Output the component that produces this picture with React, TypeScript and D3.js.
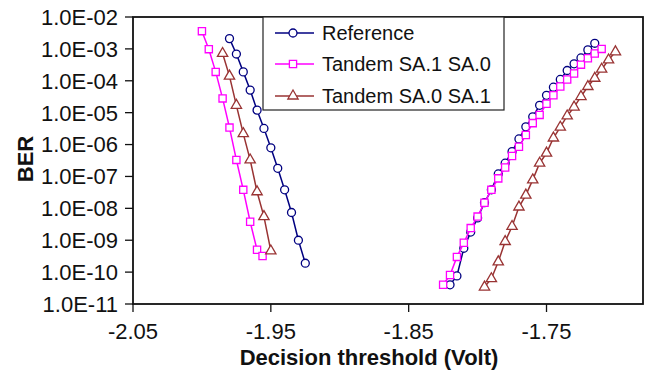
import React from "react";
import * as d3 from "d3";

const xTicks = [-2.05, -1.95, -1.85, -1.75];
const xTickLabels = ["-2.05", "-1.95", "-1.85", "-1.75"];
const yTicks = [1e-2, 1e-3, 1e-4, 1e-5, 1e-6, 1e-7, 1e-8, 1e-9, 1e-10, 1e-11];
const yTickLabels = ["1.0E-02", "1.0E-03", "1.0E-04", "1.0E-05", "1.0E-06", "1.0E-07", "1.0E-08", "1.0E-09", "1.0E-10", "1.0E-11"];

// Reference
const refLeftX = [-1.98, -1.975, -1.97, -1.965, -1.96, -1.955, -1.95, -1.945, -1.94, -1.935, -1.93, -1.925];
const refLeftY = [2.1e-3, 6.9e-4, 1.9e-4, 5.1e-5, 1.2e-5, 3.2e-6, 7.9e-7, 1.8e-7, 3.8e-8, 7.4e-9, 1.0e-9, 1.9e-10];
const refRightX = [-1.82, -1.815, -1.81, -1.805, -1.8, -1.795, -1.79, -1.785, -1.78, -1.775, -1.77, -1.765, -1.76, -1.755, -1.75, -1.745, -1.74, -1.735, -1.73, -1.725, -1.72, -1.715];
const refRightY = [4.0e-11, 7.6e-11, 5.6e-10, 1.8e-9, 5.0e-9, 1.5e-8, 3.8e-8, 1.2e-7, 2.6e-7, 6.0e-7, 1.5e-6, 3.6e-6, 7.4e-6, 1.7e-5, 3.5e-5, 6.3e-5, 1.1e-4, 2.1e-4, 3.4e-4, 5.2e-4, 9.3e-4, 1.5e-3];

// Tandem SA.1 SA.0
const t10LeftX = [-2.0, -1.995, -1.99, -1.985, -1.98, -1.975, -1.97, -1.965, -1.96, -1.956];
const t10LeftY = [3.6e-3, 9.8e-4, 1.9e-4, 2.8e-5, 3.4e-6, 3.3e-7, 3.8e-8, 3.8e-9, 5.0e-10, 3.2e-10];
const t10RightX = [-1.825, -1.82, -1.815, -1.81, -1.805, -1.8, -1.795, -1.79, -1.785, -1.78, -1.775, -1.77, -1.765, -1.76, -1.755, -1.75, -1.745, -1.74, -1.735, -1.73, -1.725, -1.72, -1.715, -1.71];
const t10RightY = [4.0e-11, 8.1e-11, 3.0e-10, 8.3e-10, 2.4e-9, 5.5e-9, 1.5e-8, 3.8e-8, 8.7e-8, 1.9e-7, 4.4e-7, 8.5e-7, 2.0e-6, 4.7e-6, 8.5e-6, 1.9e-5, 3.5e-5, 6.6e-5, 1.1e-4, 1.7e-4, 3.2e-4, 5.1e-4, 7.2e-4, 1.0e-3];

// Tandem SA.0 SA.1
const t01LeftX = [-1.985, -1.98, -1.975, -1.97, -1.965, -1.96, -1.955, -1.95];
const t01LeftY = [7.2e-4, 1.4e-4, 1.7e-5, 2.2e-6, 3.3e-7, 3.3e-8, 5.5e-9, 4.6e-10];
const t01RightX = [-1.795, -1.79, -1.785, -1.78, -1.775, -1.77, -1.765, -1.76, -1.755, -1.75, -1.745, -1.74, -1.735, -1.73, -1.725, -1.72, -1.715, -1.71, -1.705, -1.7];
const t01RightY = [3.4e-11, 6.2e-11, 2.1e-10, 9.1e-10, 2.7e-9, 1.1e-8, 2.6e-8, 7.8e-8, 2.6e-7, 5.4e-7, 1.6e-6, 3.5e-6, 7.9e-6, 1.5e-5, 3.2e-5, 6.6e-5, 1.2e-4, 2.3e-4, 4.5e-4, 8.1e-4];

const seriesNames = ["Reference", "Tandem SA.1 SA.0", "Tandem SA.0 SA.1"];
const seriesColors = ["#000080", "#FF00FF", "#993333"];

const W = 652, H = 374;
const L = 133, R = 643, T = 17, B = 304;
const FONT = "'Liberation Sans', Arial, sans-serif";

const x = d3.scaleLinear().domain([-2.05, -1.68]).range([L, R]);
const y = d3.scaleLog().domain([1e-11, 1e-2]).range([B, T]);

const zip = (xs: number[], ys: number[]) => xs.map((v, i) => [v, ys[i]] as [number, number]);

const series = [
  { name: seriesNames[0], color: seriesColors[0], marker: "circle", segs: [zip(refLeftX, refLeftY), zip(refRightX, refRightY)] },
  { name: seriesNames[1], color: seriesColors[1], marker: "square", segs: [zip(t10LeftX, t10LeftY), zip(t10RightX, t10RightY)] },
  { name: seriesNames[2], color: seriesColors[2], marker: "triangle", segs: [zip(t01LeftX, t01LeftY), zip(t01RightX, t01RightY)] },
];

const line = d3.line<[number, number]>().x((d) => x(d[0])).y((d) => y(d[1]));
const sym: Record<string, string> = {
  circle: d3.symbol().type(d3.symbolCircle).size(50)() as string,
  square: d3.symbol().type(d3.symbolSquare).size(52)() as string,
  triangle: d3.symbol().type(d3.symbolTriangle).size(46)() as string,
};

function Marker({ kind, cx, cy, color }: { kind: string; cx: number; cy: number; color: string }) {
  return <path d={sym[kind]} transform={`translate(${cx},${cy})`} fill="white" stroke={color} strokeWidth={1.3} />;
}

export default function App() {
  const legendRows = [33, 64, 96];
  return (
    <div style={{ position: "absolute", left: 0, top: 0 }}>
      <svg width={W} height={H} style={{ display: "block", background: "white" }}>
        <rect x={0} y={0} width={W} height={H} fill="white" />
        {/* series */}
        {series.map((s) => (
          <g key={s.name}>
            {s.segs.map((seg, i) => (
              <path key={i} d={line(seg) as string} fill="none" stroke={s.color} strokeWidth={1.5} />
            ))}
            {s.segs.flat().map((d, i) => (
              <Marker key={i} kind={s.marker} cx={x(d[0])} cy={y(d[1])} color={s.color} />
            ))}
          </g>
        ))}
        {/* plot border */}
        <rect x={L} y={T} width={R - L} height={B - T} fill="none" stroke="#111" strokeWidth={1.8} />
        {/* y ticks */}
        {yTicks.map((t, i) => (
          <g key={i}>
            <line x1={L - 8} x2={L} y1={y(t)} y2={y(t)} stroke="#111" strokeWidth={1.3} />
            <text x={L - 15} y={y(t)} dy="0.36em" textAnchor="end" fontFamily={FONT} fontSize={22} fill="#111">
              {yTickLabels[i]}
            </text>
          </g>
        ))}
        {/* x ticks */}
        {xTicks.map((t, i) => (
          <g key={i}>
            <line x1={x(t)} x2={x(t)} y1={B} y2={B + 8} stroke="#111" strokeWidth={1.3} />
            <text x={x(t)} y={339} textAnchor="middle" fontFamily={FONT} fontSize={22} fill="#111">
              {xTickLabels[i]}
            </text>
          </g>
        ))}
        {/* axis titles */}
        <text x={369} y={365} textAnchor="middle" fontFamily={FONT} fontSize={22} fontWeight="bold" fill="#111">
          Decision threshold (Volt)
        </text>
        <text transform="translate(33,159) rotate(-90)" textAnchor="middle" fontFamily={FONT} fontSize={22} fontWeight="bold" fill="#111">
          BER
        </text>
        {/* legend */}
        <rect x={263} y={T} width={241} height={93} fill="white" stroke="#222" strokeWidth={1.2} />
        {series.map((s, i) => (
          <g key={s.name}>
            <line x1={275} x2={314} y1={legendRows[i]} y2={legendRows[i]} stroke={s.color} strokeWidth={1.5} />
            <Marker kind={s.marker} cx={293} cy={legendRows[i]} color={s.color} />
            <text x={322} y={legendRows[i]} dy="0.36em" fontFamily={FONT} fontSize={20} fill="#111">
              {s.name}
            </text>
          </g>
        ))}
      </svg>
    </div>
  );
}
